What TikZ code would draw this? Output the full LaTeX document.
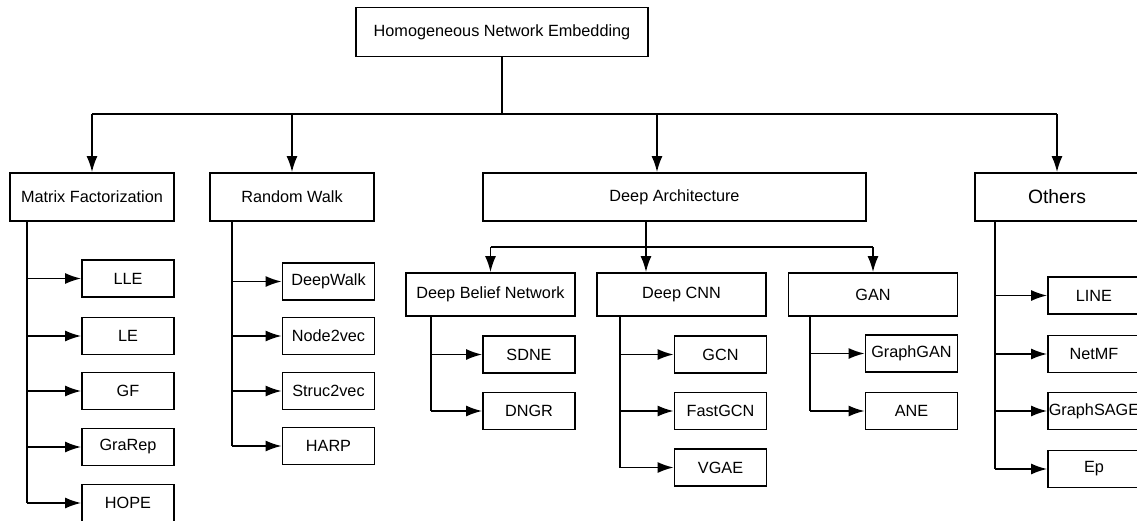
\documentclass[tikz,border=0pt]{standalone}
\usepackage{fontspec}
\setmainfont{Liberation Sans}
\usetikzlibrary{arrows.meta}

\begin{document}
\begin{tikzpicture}[
    box/.style={draw, line width=1pt, inner sep=0pt, font=\fontsize{9.25}{11}\selectfont},
    top/.style={box, minimum width=3.28cm, minimum height=0.96cm},
    mid/.style={box, minimum width=3.38cm, minimum height=0.86cm},
    leaf/.style={box, minimum width=1.84cm, minimum height=0.74cm},
    link/.style={line width=1pt},
    arr/.style={link, -{Latex[length=3.2mm,width=2.2mm]}}
]
\useasboundingbox (0,0) rectangle (22.74,-10.42);

% root and first level
\node[box, minimum width=5.84cm, minimum height=0.98cm] (hne) at (10.04,-0.64) {Homogeneous Network Embedding};
\node[top] (mf) at (1.84,-3.94) {Matrix Factorization};
\node[top] (rw) at (5.84,-3.94) {Random Walk};
\node[top, minimum width=7.66cm] (da) at (13.49,-3.94) {Deep Architecture};
\node[top, font=\fontsize{11}{13}\selectfont] (oth) at (21.14,-3.94) {Others};

\coordinate (bar) at (0,-2.28);
\draw[link] (hne.south) -- (hne |- bar);
\draw[link] (mf |- bar) -- (oth |- bar);
\foreach \nm in {mf, rw, oth}
{
    \draw[arr] (\nm |- bar) -- (\nm.north);
}
\draw[arr] ([xshift=-0.35cm]da.north |- bar) -- ([xshift=-0.35cm]da.north);

% deep architecture
\node[mid] (dbn) at (9.81,-5.89) {Deep Belief Network};
\node[mid] (dcnn) at (13.63,-5.89) {Deep CNN};
\node[mid] (gan) at (17.46,-5.89) {GAN};

\coordinate (bar2) at (0,-4.94);
\coordinate (dastem) at ([xshift=-0.57cm]da.south);
\draw[link] (dastem) -- (dastem |- bar2);
\draw[link] (dbn |- bar2) -- (gan |- bar2);
\draw[arr] (dbn |- bar2) -- (dbn.north);
\draw[arr] (gan |- bar2) -- (gan.north);
\draw[arr] (dastem |- bar2) -- (dastem |- dcnn.north);

% leaves
\coordinate (mfstem) at ([xshift=0.36cm]mf.south west);
\foreach \nm/\lbl/\y in {lle/LLE/-5.57, le/LE/-6.72, gf/GF/-7.82, grarep/GraRep/-8.94, hope/HOPE/-10.06}
{
    \node[leaf] (\nm) at (2.56,\y) {\lbl};
    \draw[arr] (mfstem |- \nm) -- (\nm.west);
}
\draw[link] (mfstem) -- (mfstem |- hope);

\coordinate (rwstem) at ([xshift=0.46cm]rw.south west);
\foreach \nm/\lbl/\y in {deepwalk/DeepWalk/-5.63, nodevec/Node2vec/-6.72, strucvec/Struc2vec/-7.82, harp/HARP/-8.92}
{
    \node[leaf] (\nm) at (6.57,\y) {\lbl};
    \draw[arr] (rwstem |- \nm) -- (\nm.west);
}
\draw[link] (rwstem) -- (rwstem |- harp);

\coordinate (dbnstem) at ([xshift=0.52cm]dbn.south west);
\foreach \nm/\lbl/\y in {sdne/SDNE/-7.09, dngr/DNGR/-8.22}
{
    \node[leaf] (\nm) at (10.58,\y) {\lbl};
    \draw[arr] (dbnstem |- \nm) -- (\nm.west);
}
\draw[link] (dbnstem) -- (dbnstem |- dngr);

\coordinate (dcnnstem) at ([xshift=0.48cm]dcnn.south west);
\foreach \nm/\lbl/\y in {gcn/GCN/-7.09, fastgcn/FastGCN/-8.22, vgae/VGAE/-9.35}
{
    \node[leaf] (\nm) at (14.41,\y) {\lbl};
    \draw[arr] (dcnnstem |- \nm) -- (\nm.west);
}
\draw[link] (dcnnstem) -- (dcnnstem |- vgae);

\coordinate (ganstem) at ([xshift=0.44cm]gan.south west);
\foreach \nm/\lbl/\y in {graphgan/GraphGAN/-7.07, ane/ANE/-8.22}
{
    \node[leaf] (\nm) at (18.23,\y) {\lbl};
    \draw[arr] (ganstem |- \nm) -- (\nm.west);
}
\draw[link] (ganstem) -- (ganstem |- ane);

\coordinate (othstem) at ([xshift=0.42cm]oth.south west);
\foreach \nm/\lbl/\y in {line/LINE/-5.91, netmf/NetMF/-7.08, graphsage/GraphSAGE/-8.22, ep/Ep/-9.38}
{
    \node[leaf] (\nm) at (21.88,\y) {\lbl};
    \draw[arr] (othstem |- \nm) -- (\nm.west);
}
\draw[link] (othstem) -- (othstem |- ep);
\end{tikzpicture}
\end{document}
